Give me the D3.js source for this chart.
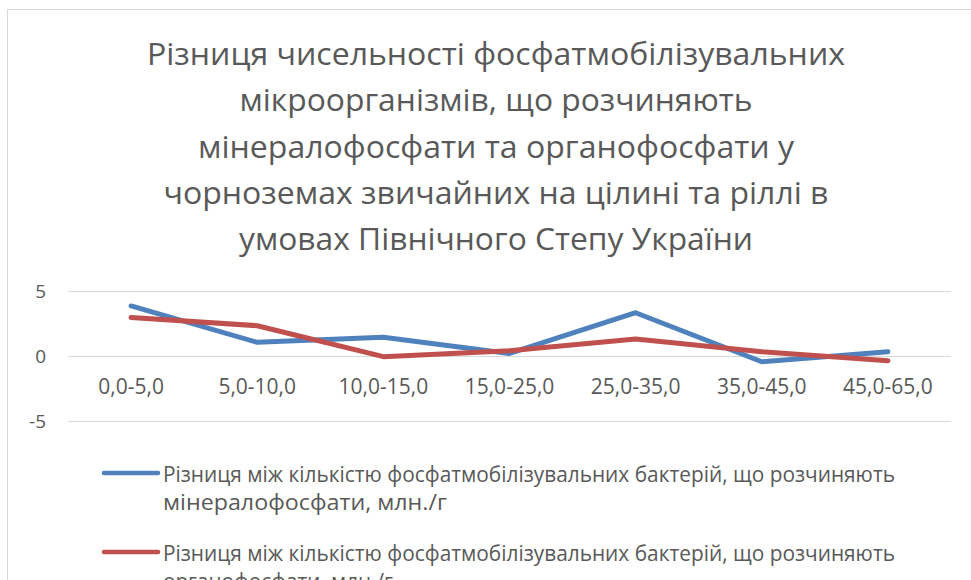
<!DOCTYPE html>
<html><head><meta charset="utf-8">
<script src="https://cdn.jsdelivr.net/npm/d3@7"></script>
<style>
html,body{margin:0;padding:0;background:#fff;}
text{font-family:"Open Sans",sans-serif;fill:#595959;}
</style></head>
<body><svg id="c" width="971" height="580"></svg>
<script>
const categories = ["0,0-5,0","5,0-10,0","10,0-15,0","15,0-25,0","25,0-35,0","35,0-45,0","45,0-65,0"];
const mineralDiff = [3.85, 1.05, 1.44, 0.2, 3.33, -0.44, 0.33];
const organicDiff = [2.97, 2.33, -0.05, 0.41, 1.31, 0.33, -0.36];
const yTicks = [-5, 0, 5];
const titleLines = [
  "Різниця чисельності фосфатмобілізувальних",
  "мікроорганізмів, що розчиняють",
  "мінералофосфати та органофосфати у",
  "чорноземах звичайних на цілині та ріллі в",
  "умовах Північного Степу України"
];
const seriesNames = [
  ["Різниця між кількістю фосфатмобілізувальних бактерій, що розчиняють","мінералофосфати, млн./г"],
  ["Різниця між кількістю фосфатмобілізувальних бактерій, що розчиняють","органофосфати, млн./г"]
];

const svg = d3.select("#c");
// chart border
svg.append("rect").attr("x",7.5).attr("y",9.5).attr("width",980).attr("height",600)
  .attr("fill","none").attr("stroke","#d9d9d9").attr("stroke-width",1);

// title
const titleW = [698, 513, 596, 665, 514];
svg.append("g").selectAll("text").data(titleLines).join("text")
  .attr("x",496).attr("y",(d,i)=>65+i*46.25).attr("text-anchor","middle")
  .attr("font-size",31).attr("textLength",(d,i)=>titleW[i]).attr("lengthAdjust","spacingAndGlyphs")
  .text(d=>d);

const x = d3.scaleBand().domain(categories).range([68,951]).padding(0);
const y = d3.scaleLinear().domain([-5,5]).range([421,291]);

// grid
svg.append("g").selectAll("line").data(yTicks).join("line")
  .attr("x1",68).attr("x2",951).attr("y1",d=>y(d)+0.5).attr("y2",d=>y(d)+0.5)
  .attr("stroke","#d9d9d9").attr("stroke-width",1);

// y axis labels
const yAxis = d3.axisLeft(y).tickValues(yTicks).tickSize(0).tickPadding(0).tickFormat(d3.format("d"));
const ya = svg.append("g").attr("transform","translate(46,0)").call(yAxis);
ya.select(".domain").remove();
ya.selectAll("text").attr("font-size",19).attr("fill","#595959").attr("font-family","Open Sans");
ya.selectAll("text").text(d=> d<0 ? "-"+Math.abs(d) : d);

// x axis labels
const xAxis = d3.axisBottom(x).tickSize(0).tickPadding(0);
const xa = svg.append("g").attr("transform","translate(0,379)").call(xAxis);
xa.select(".domain").remove();
xa.selectAll("text").attr("font-size",21).attr("fill","#595959").attr("font-family","Open Sans");

const cx = d => x(d)+x.bandwidth()/2;
const line = d3.line().x((d,i)=>cx(categories[i])).y(d=>y(d));
const colors = ["#4f81bd","#c0504d"];
[mineralDiff, organicDiff].forEach((s,k)=>{
  svg.append("path").datum(s).attr("d",line).attr("fill","none")
    .attr("stroke",colors[k]).attr("stroke-width",5).attr("stroke-linejoin","round").attr("stroke-linecap","round");
});

// legend
const legY = [473, 552];
const leg2W = [284, 230];
seriesNames.forEach((lines,k)=>{
  const g = svg.append("g");
  g.append("line").attr("x1",104).attr("x2",158).attr("y1",legY[k]).attr("y2",legY[k])
    .attr("stroke",colors[k]).attr("stroke-width",4.5).attr("stroke-linecap","round");
  g.append("text").attr("x",163).attr("y",legY[k]+9).attr("font-size",22)
    .attr("textLength",732).attr("lengthAdjust","spacingAndGlyphs").text(lines[0]);
  g.append("text").attr("x",163).attr("y",legY[k]+37).attr("font-size",22)
    .attr("textLength",leg2W[k]).attr("lengthAdjust","spacingAndGlyphs").text(lines[1]);
});
</script></body></html>
